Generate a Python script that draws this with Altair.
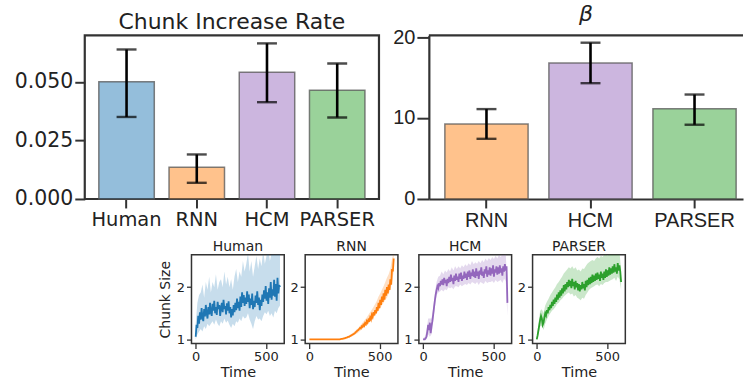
import altair as alt
import pandas as pd

# ---------------- data ----------------
models4 = ["Human", "RNN", "HCM", "PARSER"]
rate = [0.0500, 0.0135, 0.0541, 0.0464]
rate_lo = [0.0350, 0.0069, 0.0413, 0.0348]
rate_hi = [0.0638, 0.0190, 0.0664, 0.0578]

models3 = ["RNN", "HCM", "PARSER"]
beta = [9.26, 16.8, 11.15]
beta_lo = [7.43, 14.3, 9.17]
beta_hi = [11.1, 19.3, 12.9]

colors4 = ["#1f77b4", "#ff7f0e", "#9467bd", "#2ca02c"]

t_line = list(range(0, 601, 6))
t_band = list(range(0, 601, 12))

human_line = [
    1.05, 1.28, 1.22, 1.45, 1.30, 1.52, 1.38, 1.60, 1.42, 1.35,
    1.58, 1.44, 1.66, 1.50, 1.40, 1.62, 1.48, 1.70, 1.52, 1.45,
    1.68, 1.55, 1.74, 1.50, 1.62, 1.47, 1.72, 1.58, 1.66, 1.45,
    1.60, 1.70, 1.52, 1.76, 1.58, 1.64, 1.48, 1.69, 1.55, 1.73,
    1.50, 1.62, 1.42, 1.58, 1.46, 1.66, 1.52, 1.70, 1.56, 1.78,
    1.60, 1.72, 1.55, 1.82, 1.62, 1.90, 1.70, 1.85, 1.64, 1.80,
    1.68, 1.92, 1.72, 1.86, 1.60, 1.78, 1.66, 1.88, 1.58, 1.74,
    1.62, 1.84, 1.70, 1.92, 1.66, 1.80, 1.56, 1.76, 1.64, 1.86,
    1.72, 1.94, 1.78, 2.02, 1.74, 1.90, 1.68, 1.98, 1.80, 2.10,
    1.76, 1.96, 1.84, 2.14, 1.82, 2.06, 1.74, 2.18, 1.88, 2.04,
    2.00,
]
human_lo = [
    1.00, 1.10, 1.15, 1.20, 1.15, 1.25, 1.20, 1.30, 1.25, 1.30,
    1.35, 1.28, 1.38, 1.30, 1.25, 1.35, 1.30, 1.40, 1.32, 1.36,
    1.28, 1.22, 1.30, 1.25, 1.35, 1.32, 1.40, 1.35, 1.45, 1.40,
    1.42, 1.50, 1.38, 1.30, 1.20, 1.35, 1.45, 1.38, 1.40, 1.35,
    1.45, 1.52, 1.48, 1.55, 1.45, 1.50, 1.42, 1.55, 1.50, 1.60,
    1.65,
]
human_hi = [
    1.30, 1.70, 1.85, 1.90, 2.05, 1.80, 2.10, 1.95, 2.20, 1.90,
    2.10, 2.00, 2.25, 1.95, 2.10, 2.15, 2.00, 2.30, 2.05, 2.20,
    2.00, 2.15, 1.95, 2.20, 2.35, 2.10, 2.30, 2.20, 2.50, 2.30,
    2.45, 2.65, 2.30, 2.50, 2.20, 2.40, 2.60, 2.35, 2.55, 2.40,
    2.70, 2.45, 2.60, 2.75, 2.50, 2.65, 2.70, 2.60, 2.80, 2.70,
    2.65,
]

rnn_line = [
    1.00, 1.00, 1.00, 1.00, 1.00, 1.00, 1.00, 1.00, 1.00, 1.00,
    1.00, 1.00, 1.00, 1.00, 1.00, 1.00, 1.00, 1.00, 1.00, 1.00,
    1.00, 1.00, 1.00, 1.00, 1.00, 1.00, 1.00, 1.00, 1.00, 1.00,
    1.00, 1.00, 1.00, 1.00, 1.00, 1.00, 1.00, 1.005, 1.01, 1.01,
    1.015, 1.02,
    1.02, 1.03, 1.035, 1.04, 1.05, 1.05, 1.06, 1.07, 1.08, 1.09,
    1.10, 1.11, 1.12, 1.14, 1.15, 1.17, 1.18, 1.20, 1.22, 1.21,
    1.25, 1.24, 1.28, 1.26, 1.31, 1.29, 1.35, 1.32, 1.38, 1.36,
    1.42, 1.38, 1.47, 1.43, 1.52, 1.46, 1.56, 1.50, 1.62, 1.55,
    1.70, 1.60, 1.76, 1.66, 1.82, 1.72, 1.88, 1.76, 1.95, 1.84,
    2.00, 1.88, 2.05, 1.95, 2.15, 2.05, 2.35, 2.30, 2.55,
]
rnn_lo = [
    1.00, 1.00, 1.00, 1.00, 1.00, 1.00, 1.00, 1.00, 1.00, 1.00,
    1.00, 1.00, 1.00, 1.00, 1.00, 1.00, 1.00, 1.00, 1.00, 1.00,
    1.00,
    1.01, 1.02, 1.03, 1.04, 1.05, 1.07, 1.09, 1.11, 1.13, 1.16,
    1.19, 1.22, 1.25, 1.28, 1.32, 1.35, 1.38, 1.42, 1.46, 1.50,
    1.55, 1.60, 1.65, 1.70, 1.76, 1.80, 1.88, 1.95, 2.10, 2.30,
]
rnn_hi = [
    1.00, 1.00, 1.00, 1.00, 1.00, 1.00, 1.00, 1.00, 1.00, 1.00,
    1.00, 1.00, 1.00, 1.00, 1.00, 1.00, 1.00, 1.00, 1.01, 1.01,
    1.02,
    1.04, 1.05, 1.07, 1.09, 1.11, 1.13, 1.16, 1.19, 1.22, 1.26,
    1.30, 1.34, 1.38, 1.42, 1.47, 1.52, 1.57, 1.62, 1.68, 1.74,
    1.82, 1.88, 1.95, 2.02, 2.10, 2.18, 2.25, 2.35, 2.55, 2.65,
]

hcm_line = [
    1.00, 1.00, 1.00, 1.02, 1.05, 1.15, 1.28, 1.18, 1.32, 1.12,
    1.25, 1.35, 1.48, 1.62, 1.75, 1.86, 1.95, 2.02, 1.98, 2.08,
    2.02, 2.12, 2.05, 2.15, 2.04, 2.18, 2.08, 2.14, 2.02, 2.16,
    2.08, 2.20, 2.10, 2.24, 2.12, 2.18, 2.06, 2.22, 2.12, 2.26,
    2.14, 2.20, 2.10, 2.26, 2.16, 2.28, 2.12, 2.22, 2.16, 2.30,
    2.18, 2.26, 2.14, 2.30, 2.20, 2.32, 2.16, 2.28, 2.22, 2.34,
    2.20, 2.30, 2.18, 2.36, 2.22, 2.30, 2.16, 2.32, 2.24, 2.38,
    2.22, 2.30, 2.18, 2.34, 2.26, 2.40, 2.20, 2.32, 2.24, 2.38,
    2.22, 2.36, 2.26, 2.42, 2.20, 2.34, 2.28, 2.40, 2.24, 2.38,
    2.26, 2.42, 2.28, 2.36, 2.22, 2.40, 2.30, 2.44, 2.32, 2.40,
    1.70,
]
hcm_lo = [
    1.00, 1.00, 1.00, 1.10, 1.05, 1.10, 1.35, 1.62, 1.85, 1.90,
    1.92, 1.95, 1.92, 1.96, 1.94, 2.00, 1.98, 2.00, 1.96, 2.02,
    2.02, 2.00, 2.05, 2.02, 2.04, 2.06, 2.04, 2.08, 2.05, 2.10,
    2.08, 2.06, 2.10, 2.04, 2.10, 2.08, 2.06, 2.12, 2.08, 2.10,
    2.10, 2.12, 2.08, 2.14, 2.10, 2.12, 2.14, 2.08, 2.16, 2.12,
    1.45,
]
hcm_hi = [
    1.02, 1.05, 1.15, 1.40, 1.40, 1.40, 1.60, 1.90, 2.10, 2.20,
    2.22, 2.30, 2.25, 2.32, 2.28, 2.35, 2.30, 2.38, 2.32, 2.40,
    2.35, 2.40, 2.36, 2.42, 2.38, 2.44, 2.40, 2.46, 2.42, 2.50,
    2.44, 2.48, 2.45, 2.50, 2.46, 2.52, 2.48, 2.55, 2.50, 2.56,
    2.52, 2.58, 2.54, 2.60, 2.55, 2.62, 2.58, 2.62, 2.60, 2.65,
    1.95,
]

parser_line = [
    1.00, 1.08, 1.18, 1.28, 1.38, 1.45, 1.40, 1.28, 1.32, 1.42,
    1.50, 1.46, 1.56, 1.50, 1.62, 1.56, 1.66, 1.60, 1.72, 1.64,
    1.76, 1.68, 1.80, 1.72, 1.86, 1.76, 1.90, 1.80, 1.94, 1.84,
    1.98, 1.88, 2.04, 1.92, 2.06, 1.96, 2.10, 2.00, 2.14, 2.02,
    2.12, 1.98, 2.16, 2.02, 2.10, 1.96, 2.12, 2.00, 2.08, 1.94,
    2.06, 1.92, 2.04, 1.96, 2.10, 1.98, 2.06, 1.94, 2.12, 2.00,
    2.14, 2.04, 2.18, 2.06, 2.20, 2.08, 2.24, 2.10, 2.22, 2.12,
    2.26, 2.14, 2.28, 2.16, 2.24, 2.12, 2.30, 2.18, 2.26, 2.14,
    2.30, 2.18, 2.34, 2.20, 2.32, 2.22, 2.38, 2.24, 2.36, 2.26,
    2.40, 2.28, 2.44, 2.30, 2.38, 2.26, 2.46, 2.32, 2.42, 2.30,
    2.10,
]
parser_lo = [
    1.00, 1.10, 1.25, 1.25, 1.18, 1.30, 1.38, 1.45, 1.50, 1.55,
    1.58, 1.62, 1.68, 1.70, 1.75, 1.78, 1.82, 1.85, 1.88, 1.90,
    1.86, 1.88, 1.82, 1.85, 1.80, 1.78, 1.75, 1.80, 1.78, 1.85,
    1.90, 1.95, 1.98, 2.00, 2.02, 2.04, 2.05, 2.02, 2.06, 2.04,
    2.08, 2.10, 2.10, 2.12, 2.14, 2.15, 2.18, 2.12, 2.20, 2.15,
    1.95,
]
parser_hi = [
    1.02, 1.30, 1.55, 1.58, 1.50, 1.65, 1.72, 1.78, 1.85, 1.90,
    1.95, 2.00, 2.06, 2.10, 2.15, 2.20, 2.26, 2.30, 2.34, 2.38,
    2.36, 2.40, 2.35, 2.38, 2.32, 2.34, 2.30, 2.36, 2.35, 2.40,
    2.45, 2.48, 2.50, 2.52, 2.50, 2.55, 2.58, 2.55, 2.60, 2.58,
    2.62, 2.64, 2.60, 2.65, 2.66, 2.66, 2.68, 2.65, 2.70, 2.68,
    2.35,
]

# ---------------- styling ----------------
FONT_L = "DejaVu Sans"
FONT_R = "Liberation Sans"
TXT = "#222222"
FRAME = "#333333"

# ---------------- top-left: Chunk Increase Rate ----------------
rate_df = pd.DataFrame({"model": models4, "rate": rate, "lo": rate_lo, "hi": rate_hi})
xL = alt.X("model:N", sort=models4,
           scale=alt.Scale(paddingInner=0.21, paddingOuter=0.2),
           axis=alt.Axis(title=None, labelAngle=0, labelFont=FONT_L, labelFontSize=19.5,
                         labelColor=TXT, tickSize=9, tickWidth=2, tickColor=FRAME,
                         domain=False, labelPadding=3))
ysc = alt.Scale(domain=[0, 0.0698], nice=False, zero=True)
yL = alt.Y("rate:Q", scale=ysc,
           axis=alt.Axis(title=None, values=[0, 0.025, 0.05], format=".3f", grid=False,
                         labelFont=FONT_L, labelFontSize=20.5, labelColor=TXT,
                         tickSize=10, tickWidth=2, tickColor=FRAME, domain=False,
                         labelPadding=2))
colL = alt.Color("model:N", scale=alt.Scale(domain=models4, range=colors4), legend=None)
baseL = alt.Chart(rate_df)
barsL = baseL.mark_bar(fillOpacity=0.48, stroke="#555555", strokeWidth=1.5,
                       strokeOpacity=0.75).encode(x=xL, y=yL, color=colL)
errL = baseL.mark_rule(color="black", strokeWidth=2.6).encode(
    x=xL, y=alt.Y("lo:Q", scale=ysc), y2="hi:Q")
capLhi = baseL.mark_tick(color="black", size=20, thickness=2.4).encode(
    x=xL, y=alt.Y("hi:Q", scale=ysc))
capLlo = baseL.mark_tick(color="black", size=20, thickness=2.4).encode(
    x=xL, y=alt.Y("lo:Q", scale=ysc))
left = alt.layer(barsL, errL, capLhi, capLlo).properties(
    width=295, height=164,
    view=alt.ViewBackground(stroke=FRAME, strokeWidth=2.2),
    title=alt.TitleParams("Chunk Increase Rate", font=FONT_L, fontSize=22,
                          fontWeight="normal", color=TXT, offset=1),
)

# ---------------- top-right: beta ----------------
beta_df = pd.DataFrame({"model": models3, "beta": beta, "lo": beta_lo, "hi": beta_hi})
RW = 315
xR = alt.X("model:N", sort=models3,
           scale=alt.Scale(paddingInner=0.2, paddingOuter=0.11, align=0.7),
           axis=alt.Axis(title=None, labelAngle=0, labelFont=FONT_R, labelFontSize=20,
                         labelColor=TXT, tickSize=9, tickWidth=2, tickColor=FRAME,
                         domain=True, domainColor=FRAME, domainWidth=2.2, labelPadding=3))
ysR = alt.Scale(domain=[0, 20.2], nice=False, zero=True)
yR = alt.Y("beta:Q", scale=ysR,
           axis=alt.Axis(title=None, values=[0, 10, 20], grid=False,
                         labelFont=FONT_R, labelFontSize=20, labelColor=TXT,
                         tickSize=12, tickWidth=2, tickColor=FRAME, domain=True,
                         domainColor=FRAME, domainWidth=2.2, labelPadding=2))
colR = alt.Color("model:N", scale=alt.Scale(domain=models4, range=colors4), legend=None)
baseR = alt.Chart(beta_df)
barsR = baseR.mark_bar(fillOpacity=0.48, stroke="#555555", strokeWidth=1.5,
                       strokeOpacity=0.75).encode(x=xR, y=yR, color=colR)
errR = baseR.mark_rule(color="black", strokeWidth=2.6).encode(
    x=xR, y=alt.Y("lo:Q", scale=ysR), y2="hi:Q")
capRhi = baseR.mark_tick(color="black", size=20, thickness=2.4).encode(
    x=xR, y=alt.Y("hi:Q", scale=ysR))
capRlo = baseR.mark_tick(color="black", size=20, thickness=2.4).encode(
    x=xR, y=alt.Y("lo:Q", scale=ysR))
topspine = alt.Chart(alt.Data(values=[{}])).mark_rule(
    color=FRAME, strokeWidth=2.2).encode(
    x=alt.value(0), x2=alt.value(RW), y=alt.value(0))
right = alt.layer(barsR, errR, capRhi, capRlo, topspine).properties(
    width=RW, height=164,
    view=alt.ViewBackground(stroke="transparent"),
    title=alt.TitleParams("β", font=FONT_L, fontSize=22, fontStyle="italic",
                          fontWeight="normal", color=TXT, offset=1),
)

top_row = alt.hconcat(left, right, spacing=11)

# ---------------- bottom panels ----------------
def panel(name, line_vals, lo_vals, hi_vals, color, first):
    ldf = pd.DataFrame({"t": t_line, "v": line_vals})
    bdf = pd.DataFrame({"t": t_band, "lo": lo_vals, "hi": hi_vals})
    xs = alt.Scale(domain=[-30, 630], nice=False, zero=False)
    ys = alt.Scale(domain=[0.92, 2.62], nice=False, zero=False)
    xax = alt.Axis(title="Time", values=[0, 500], grid=False, labelFont=FONT_L,
                   labelFontSize=13, labelColor=TXT, titleFont=FONT_L,
                   titleFontSize=14.5, titleFontWeight="normal", titleColor=TXT,
                   tickSize=5, tickWidth=1.3, tickColor=FRAME, domain=False,
                   labelPadding=2, titlePadding=2)
    yax = alt.Axis(title="Chunk Size" if first else "", values=[1, 2], grid=False,
                   labelFont=FONT_L, labelFontSize=13, labelColor=TXT,
                   titleFont=FONT_L, titleFontSize=14, titleFontWeight="normal",
                   titleColor=TXT, tickSize=5, tickWidth=1.3, tickColor=FRAME,
                   domain=False, labelPadding=2, titlePadding=4)
    band = alt.Chart(bdf).mark_area(color=color, opacity=0.25, clip=True).encode(
        x=alt.X("t:Q", scale=xs, axis=xax),
        y=alt.Y("lo:Q", scale=ys, axis=yax), y2="hi:Q")
    line = alt.Chart(ldf).mark_line(color=color, strokeWidth=1.8, clip=True).encode(
        x=alt.X("t:Q", scale=xs, axis=xax),
        y=alt.Y("v:Q", scale=ys, axis=yax))
    return alt.layer(band, line).properties(
        width=93, height=89,
        view=alt.ViewBackground(stroke=FRAME, strokeWidth=1.5),
        title=alt.TitleParams(name, font=FONT_L, fontSize=14, fontWeight="normal",
                              color=TXT, offset=1),
    )

# invisible spacer that shifts the small panels to the right
spacer = alt.Chart(alt.Data(values=[{}])).mark_point(opacity=0).encode(
    x=alt.value(0), y=alt.value(0)).properties(
    width=69, height=10, view=alt.ViewBackground(stroke="transparent"))

bottom_row = alt.hconcat(
    spacer,
    panel("Human", human_line, human_lo, human_hi, colors4[0], True),
    panel("RNN", rnn_line, rnn_lo, rnn_hi, colors4[1], False),
    panel("HCM", hcm_line, hcm_lo, hcm_hi, colors4[2], False),
    panel("PARSER", parser_line, parser_lo, parser_hi, colors4[3], False),
    spacing=3,
)

chart = alt.vconcat(top_row, bottom_row, spacing=8).properties(
    padding={"left": 13, "top": 2, "right": 0, "bottom": 0},
    background="white",
).configure_view(strokeWidth=0)

chart.save("out.html", embed_options={"renderer": "svg", "actions": False})
